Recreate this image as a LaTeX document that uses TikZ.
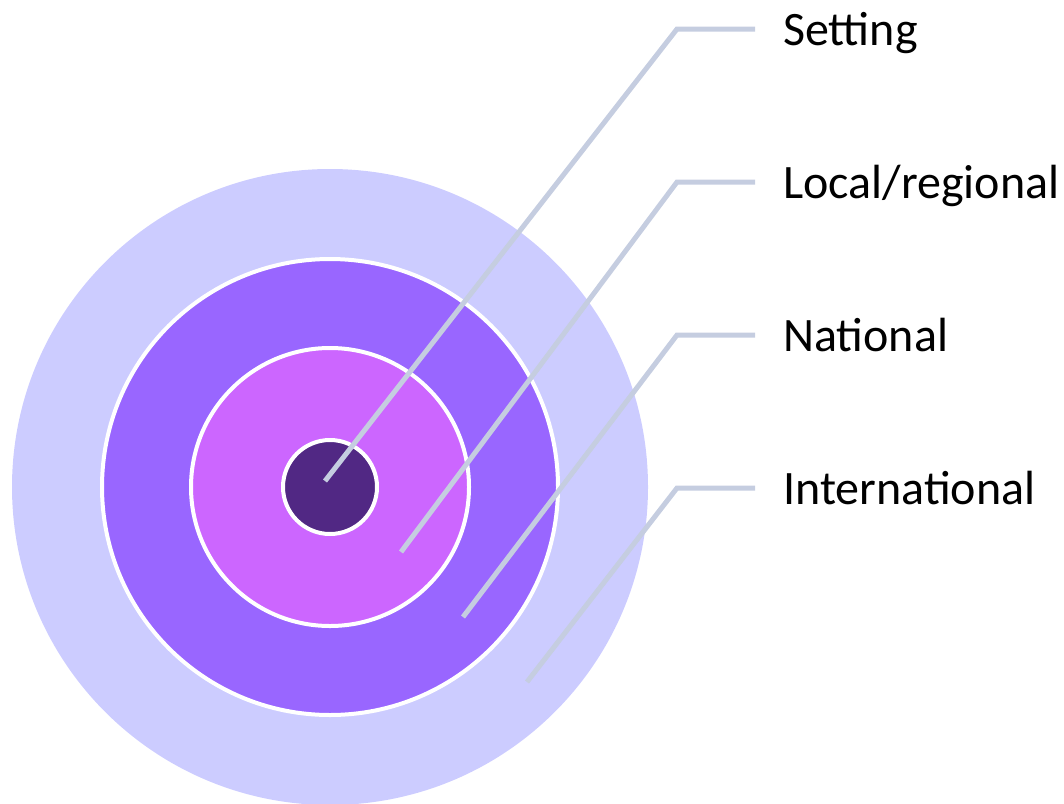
\documentclass[tikz,border=0pt]{standalone}
\usepackage{fontspec}
\setmainfont{Carlito}
\definecolor{ringA}{HTML}{CCCCFF}
\definecolor{ringB}{HTML}{9966FF}
\definecolor{ringC}{HTML}{CC66FF}
\definecolor{ringD}{HTML}{512884}
\definecolor{leader}{HTML}{C5CDE0}
\begin{document}
\begin{tikzpicture}[x=1pt,y=-1pt,
  ring/.style={circle,draw=white,line width=4pt,inner sep=0pt},
  lead/.style={draw=leader,line width=5pt},
  lbl/.style={anchor=base west,font=\fontsize{48}{56}\selectfont,inner sep=0pt}]
\useasboundingbox (0,0) rectangle (1064,803);
\node[circle,fill=ringA,inner sep=0pt,minimum size=636pt] (outer) at (330,487) {};
\node[ring,fill=ringB,minimum size=456pt] (nat) at (330,487) {};
\node[ring,fill=ringC,minimum size=278pt] (loc) at (330,487) {};
\node[ring,fill=ringD,minimum size=94pt] (set) at (330,487) {};
\coordinate (e1) at (325,481);
\coordinate (e2) at (401,552);
\coordinate (e3) at (463,617);
\coordinate (e4) at (527,682);
\coordinate (k1) at (677,29);
\coordinate (k2) at (677,182);
\coordinate (k3) at (677,335);
\coordinate (k4) at (677,488);
\coordinate (t1) at (755,29);
\coordinate (t2) at (755,182);
\coordinate (t3) at (755,335);
\coordinate (t4) at (755,488);
\draw[lead] (e1) -- (k1) -- (t1);
\draw[lead] (e2) -- (k2) -- (t2);
\draw[lead] (e3) -- (k3) -- (t3);
\draw[lead] (e4) -- (k4) -- (t4);
\node[lbl] (l1) at (783,45) {Setting};
\node[lbl] (l2) at (783,198) {Local/regional};
\node[lbl] (l3) at (783,351) {National};
\node[lbl] (l4) at (783,504) {International};
\end{tikzpicture}
\end{document}
